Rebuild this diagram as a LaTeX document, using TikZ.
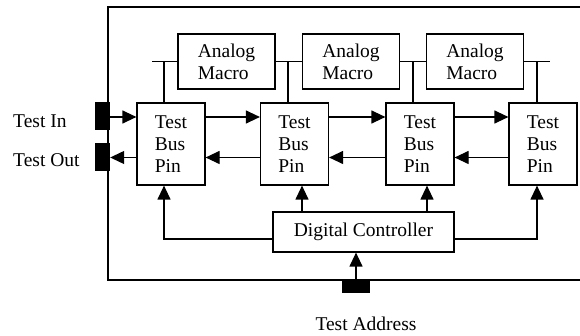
\documentclass[tikz,border=0pt]{standalone}
\usepackage{fontspec}
\setmainfont{Liberation Serif}
\usetikzlibrary{arrows.meta}
\begin{document}
\begin{tikzpicture}[x=1pt,y=-1pt,
  every node/.style={font=\fontsize{19.5}{22}\selectfont},
  box/.style={draw,line width=1.2pt,inner sep=0pt,align=left},
  tbp/.style={box,minimum width=68pt,minimum height=82pt},
  amac/.style={box,minimum width=97pt,minimum height=55pt},
  pad/.style={fill=black,draw=none,inner sep=0pt},
  ln/.style={line width=1.2pt},
  arr/.style={line width=1.2pt,-{Triangle[length=14pt,width=13pt]}}]
\useasboundingbox (0,0) rectangle (580,336);
% outer frame
\draw[ln] (580,7) -- (108,7) -- (108,280) -- (580,280);
% analog macros
\node[amac] (AM1) at (226.5,61.5) {Analog\\Macro};
\node[amac] (AM2) at (351,61.5) {Analog\\Macro};
\node[amac] (AM3) at (475,61.5) {Analog\\Macro};
% test bus pins
\node[tbp] (T1) at (171,144) {Test\\Bus\\Pin};
\node[tbp] (T2) at (294.5,144) {Test\\Bus\\Pin};
\node[tbp] (T3) at (420,144) {Test\\Bus\\Pin};
\node[tbp] (T4) at (543,144) {Test\\Bus\\Pin};
% digital controller
\node[box,minimum width=181pt,minimum height=40pt] (DC) at (363.5,232) {Digital Controller};
% pads
\node[pad,minimum width=15pt,minimum height=28pt] (PI) at (102.5,116.5) {};
\node[pad,minimum width=15pt,minimum height=28pt] (PO) at (102.5,157.5) {};
\node[pad,minimum width=28pt,minimum height=13pt] (PA) at (356,286.5) {};
% labels
\node[anchor=west,inner sep=0pt] (LI) at (13,121) {Test In};
\node[anchor=west,inner sep=0pt] (LO) at (13,160) {Test Out};
\node[inner sep=0pt] (LA) at (366,324) {Test Address};
% macro connections
\coordinate (s1) at (152,61.5);
\coordinate (j1) at (164,61.5);
\coordinate (j2) at (288,61.5);
\coordinate (j3) at (413,61.5);
\coordinate (j4) at (537,61.5);
\coordinate (s4) at (550,61.5);
\draw[ln] (s1) -- (AM1.west);
\draw[ln] (AM1.east) -- (AM2.west);
\draw[ln] (AM2.east) -- (AM3.west);
\draw[ln] (AM3.east) -- (s4);
\draw[ln] (j1) -- (j1 |- T1.north);
\draw[ln] (j2) -- (j2 |- T2.north);
\draw[ln] (j3) -- (j3 |- T3.north);
\draw[ln] (j4) -- (j4 |- T4.north);
% bus arrows
\draw[arr] ([yshift=27pt]PI.east |- T1.west) -- ([yshift=27pt]T1.west);
\draw[arr] ([yshift=-13.5pt]T1.west) -- ([yshift=-13.5pt]PO.east |- T1.west);
\draw[arr] ([yshift=27pt]T1.east) -- ([yshift=27pt]T2.west);
\draw[arr] ([yshift=27pt]T2.east) -- ([yshift=27pt]T3.west);
\draw[arr] ([yshift=27pt]T3.east) -- ([yshift=27pt]T4.west);
\draw[arr] ([yshift=-13.5pt]T2.west) -- ([yshift=-13.5pt]T1.east);
\draw[arr] ([yshift=-13.5pt]T3.west) -- ([yshift=-13.5pt]T2.east);
\draw[arr] ([yshift=-13.5pt]T4.west) -- ([yshift=-13.5pt]T3.east);
% controller arrows
\draw[arr] ([yshift=-7pt]DC.west) -| ([xshift=-7pt]T1.south);
\draw[arr] ([xshift=7.5pt]T2.south |- DC.north) -- ([xshift=7.5pt]T2.south);
\draw[arr] ([xshift=7pt]T3.south |- DC.north) -- ([xshift=7pt]T3.south);
\draw[arr] ([yshift=-7pt]DC.east) -| ([xshift=-6pt]T4.south);
\draw[arr] (PA.north) -- (PA.north |- DC.south);
\end{tikzpicture}
\end{document}
